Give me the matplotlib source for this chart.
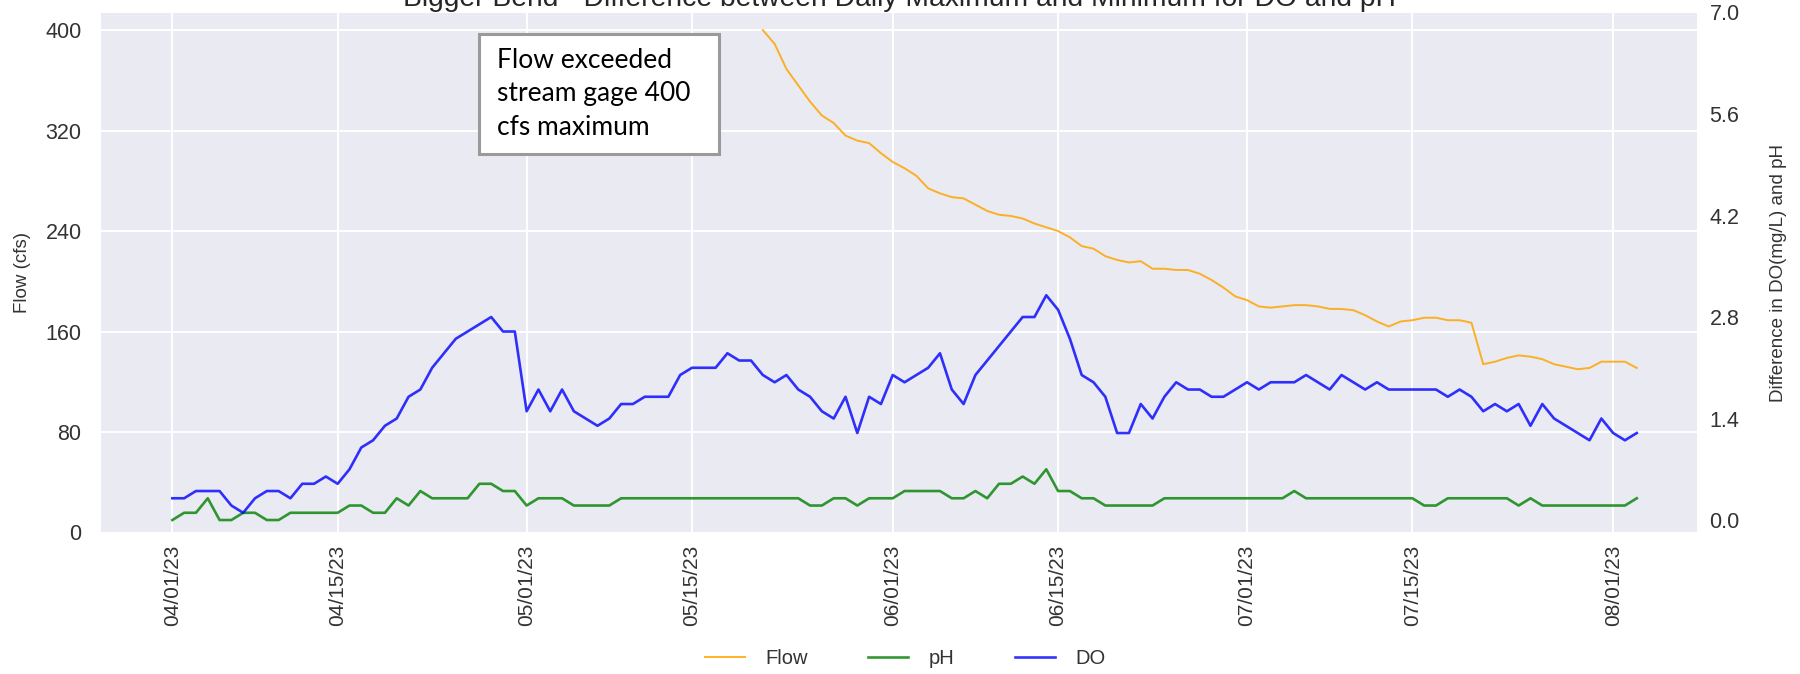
import matplotlib
matplotlib.use("Agg")
import matplotlib.pyplot as plt
import matplotlib.dates as mdates
from matplotlib.patches import Rectangle
import numpy as np
import pandas as pd

# ---------------- data ----------------
start_date = "2023-04-01"          # DO / pH series start (daily)
flow_start_date = "2023-05-21"     # flow below gage maximum from this day (daily)

do_diff = [0.3, 0.3, 0.4, 0.4, 0.4, 0.2, 0.1, 0.3, 0.4, 0.4,
           0.3, 0.5, 0.5, 0.6, 0.5, 0.7, 1.0, 1.1, 1.3, 1.4,
           1.7, 1.8, 2.1, 2.3, 2.5, 2.6, 2.7, 2.8, 2.6, 2.6,
           1.5, 1.8, 1.5, 1.8, 1.5, 1.4, 1.3, 1.4, 1.6, 1.6,
           1.7, 1.7, 1.7, 2.0, 2.1, 2.1, 2.1, 2.3, 2.2, 2.2,
           2.0, 1.9, 2.0, 1.8, 1.7, 1.5, 1.4, 1.7, 1.2, 1.7,
           1.6, 2.0, 1.9, 2.0, 2.1, 2.3, 1.8, 1.6, 2.0, 2.2,
           2.4, 2.6, 2.8, 2.8, 3.1, 2.9, 2.5, 2.0, 1.9, 1.7,
           1.2, 1.2, 1.6, 1.4, 1.7, 1.9, 1.8, 1.8, 1.7, 1.7,
           1.8, 1.9, 1.8, 1.9, 1.9, 1.9, 2.0, 1.9, 1.8, 2.0,
           1.9, 1.8, 1.9, 1.8, 1.8, 1.8, 1.8, 1.8, 1.7, 1.8,
           1.7, 1.5, 1.6, 1.5, 1.6, 1.3, 1.6, 1.4, 1.3, 1.2,
           1.1, 1.4, 1.2, 1.1, 1.2]

ph_diff = [0.0, 0.1, 0.1, 0.3, 0.0, 0.0, 0.1, 0.1, 0.0, 0.0,
           0.1, 0.1, 0.1, 0.1, 0.1, 0.2, 0.2, 0.1, 0.1, 0.3,
           0.2, 0.4, 0.3, 0.3, 0.3, 0.3, 0.5, 0.5, 0.4, 0.4,
           0.2, 0.3, 0.3, 0.3, 0.2, 0.2, 0.2, 0.2, 0.3, 0.3,
           0.3, 0.3, 0.3, 0.3, 0.3, 0.3, 0.3, 0.3, 0.3, 0.3,
           0.3, 0.3, 0.3, 0.3, 0.2, 0.2, 0.3, 0.3, 0.2, 0.3,
           0.3, 0.3, 0.4, 0.4, 0.4, 0.4, 0.3, 0.3, 0.4, 0.3,
           0.5, 0.5, 0.6, 0.5, 0.7, 0.4, 0.4, 0.3, 0.3, 0.2,
           0.2, 0.2, 0.2, 0.2, 0.3, 0.3, 0.3, 0.3, 0.3, 0.3,
           0.3, 0.3, 0.3, 0.3, 0.3, 0.4, 0.3, 0.3, 0.3, 0.3,
           0.3, 0.3, 0.3, 0.3, 0.3, 0.3, 0.2, 0.2, 0.3, 0.3,
           0.3, 0.3, 0.3, 0.3, 0.2, 0.3, 0.2, 0.2, 0.2, 0.2,
           0.2, 0.2, 0.2, 0.2, 0.3]

flow_cfs = [400, 389, 369, 356, 343, 332, 326, 316, 312, 310,
            302, 295, 290, 284, 274, 270, 267, 266, 261, 256,
            253, 252, 250, 246, 243, 240, 235, 228, 226, 220,
            217, 215, 216, 210, 210, 209, 209, 206, 201, 195,
            188, 185, 180, 179, 180, 181, 181, 180, 178, 178,
            177, 173, 168, 164, 168, 169, 171, 171, 169, 169,
            167, 134, 136, 139, 141, 140, 138, 134, 132, 130,
            131, 136, 136, 136, 131]

flow_ticks = [0, 80, 160, 240, 320, 400]
diff_ticks = [0.0, 1.4, 2.8, 4.2, 5.6, 7.0]
series_labels = ["Flow", "pH", "DO"]
title_text = "Bigger Bend - Difference between Daily Maximum and Minimum for DO and pH"
note_lines = ["Flow exceeded", "stream gage 400", "cfs maximum"]

dates = pd.date_range(start_date, periods=len(do_diff), freq="D")
flow_dates = pd.date_range(flow_start_date, periods=len(flow_cfs), freq="D")

# ---------------- figure ----------------
W, H = 1800, 674
plt.rcParams["font.family"] = ["Liberation Sans", "DejaVu Sans"]
fig = plt.figure(figsize=(W / 100, H / 100), dpi=100)

ax_l, ax_r, ax_t, ax_b = 101, 1697, 12.5, 532.5
ax = fig.add_axes([ax_l / W, 1 - ax_b / H, (ax_r - ax_l) / W, (ax_b - ax_t) / H])
ax.set_facecolor("#EAEAF2")
ax2 = ax.twinx()

l_flow, = ax.plot(flow_dates, flow_cfs, color="orange", alpha=0.85, lw=1.4, label=series_labels[0])
l_ph, = ax2.plot(dates, ph_diff, color="green", alpha=0.8, lw=1.9, label=series_labels[1])
l_do, = ax2.plot(dates, do_diff, color="blue", alpha=0.8, lw=1.9, label=series_labels[2])

x0 = mdates.date2num(pd.Timestamp(start_date))
ax.set_xlim(x0 - 6.04, x0 + 129.1)
ax.set_ylim(0, 414)
ax2.set_ylim(-0.172, 7.0)

ax.set_yticks(flow_ticks)
ax.set_yticklabels([str(t) for t in flow_ticks])
ax2.set_yticks(diff_ticks)
ax2.set_yticklabels([f"{t:.1f}" for t in diff_ticks])

ax.xaxis.set_major_locator(mdates.DayLocator(bymonthday=[1, 15]))
ax.xaxis.set_major_formatter(mdates.DateFormatter("%m/%d/%y"))

for a in (ax, ax2):
    for s in a.spines.values():
        s.set_visible(False)
ax.grid(True, color="white", lw=1.4)
ax.set_axisbelow(True)
ax2.grid(False)

tc = "#333333"
ax.tick_params(axis="x", length=0, pad=9, labelsize=15, labelcolor=tc, labelrotation=90)
ax.tick_params(axis="y", length=0, pad=14, labelsize=15.5, labelcolor=tc)
ax2.tick_params(axis="y", length=0, pad=9, labelsize=15.5, labelcolor=tc)

ax.set_ylabel("Flow (cfs)", fontsize=13.5, color=tc)
ax.yaxis.set_label_coords((31 - ax_l) / (ax_r - ax_l), 0.5)
ax2.set_ylabel("Difference in DO(mg/L) and pH", fontsize=13.5, color=tc)
ax2.yaxis.set_label_coords((1770 - ax_l) / (ax_r - ax_l), 0.5)

# title, cut off at the top as in the original
fig.text((ax_l + ax_r) / 2 / W, 1 - 6.5 / H, title_text, ha="center", va="baseline",
         fontsize=20.3, color="#262626")

# annotation box
bx0, bx1, by0, by1 = 479, 719, 34, 154
fig.add_artist(Rectangle((bx0 / W, 1 - by1 / H), (bx1 - bx0) / W, (by1 - by0) / H,
                         transform=fig.transFigure, facecolor="white",
                         edgecolor="#9a9a9a", lw=2.2, zorder=5))
for i, line in enumerate(note_lines):
    fig.text(497 / W, 1 - (68 + 33.5 * i) / H, line, ha="left", va="baseline",
             fontsize=19, family=["Lato", "DejaVu Sans"], color="black", zorder=6)

fig.legend([l_flow, l_ph, l_do], series_labels, loc="center",
           bbox_to_anchor=(905 / W, 1 - 659 / H), ncol=3, frameon=False,
           fontsize=14.5, handlelength=2.0, handletextpad=1.0, columnspacing=3.0,
           labelcolor=tc)

fig.savefig("out.png", dpi=100)
